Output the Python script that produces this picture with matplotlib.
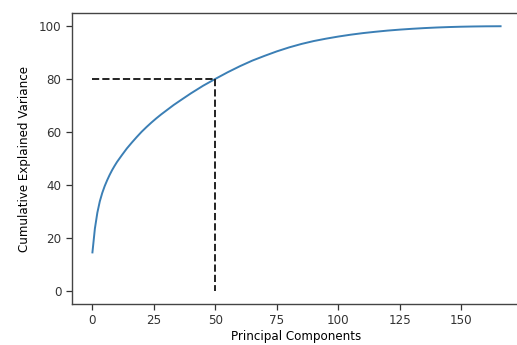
import matplotlib
matplotlib.use("Agg")
import matplotlib.pyplot as plt

components = [0, 1, 2, 3, 4, 5, 6, 7, 8, 9, 10, 12, 14, 16, 18, 20, 22, 24, 26, 28,
              30, 33, 36, 40, 45, 50, 55, 60, 65, 70, 75, 80, 85, 90, 95, 100, 105,
              110, 115, 120, 125, 130, 135, 140, 145, 150, 155, 160, 166]
cum_var = [14.5, 23.5, 29.5, 33.8, 37.0, 39.6, 41.8, 43.8, 45.6, 47.2, 48.7, 51.3,
           53.8, 56.0, 58.1, 60.1, 61.9, 63.6, 65.2, 66.7, 68.1, 70.2, 72.1, 74.6,
           77.5, 80.1, 82.6, 84.9, 87.0, 88.8, 90.5, 92.0, 93.3, 94.4, 95.3, 96.1,
           96.8, 97.4, 97.9, 98.35, 98.72, 99.03, 99.3, 99.52, 99.69, 99.82, 99.91,
           99.97, 100.0]
threshold_x = [0, 50, 50]
threshold_y = [80, 80, 0]
xticks = [0, 25, 50, 75, 100, 125, 150]
yticks = [0, 20, 40, 60, 80, 100]

plt.rcParams['font.family'] = ['DejaVu Sans']
plt.rcParams['font.size'] = 8.6

fig = plt.figure(figsize=(5.17, 3.45), dpi=100)
ax = fig.add_axes([0.1393, 0.1188, 0.8684, 0.8435])
ax.plot(components, cum_var, color='#3b7fb5', lw=1.4)
ax.plot(threshold_x[:2], threshold_y[:2], '--', lw=1.4, color='#222222')
ax.plot(threshold_x[1:], threshold_y[1:], '--', lw=1.4, color='#222222')
ax.set_xlim(-8.3, 174.3)
ax.set_ylim(-5, 105)
ax.set_xticks(xticks)
ax.set_yticks(yticks)
ax.set_xlabel('Principal Components', labelpad=2)
ax.set_ylabel('Cumulative Explained Variance', labelpad=6)
for s in ax.spines.values():
    s.set_color('#444444')
    s.set_linewidth(1.0)
ax.spines['right'].set_color('#bbbbbb')
ax.tick_params(colors='#333333', length=4, width=0.9)
fig.savefig('out.png', dpi=100)
